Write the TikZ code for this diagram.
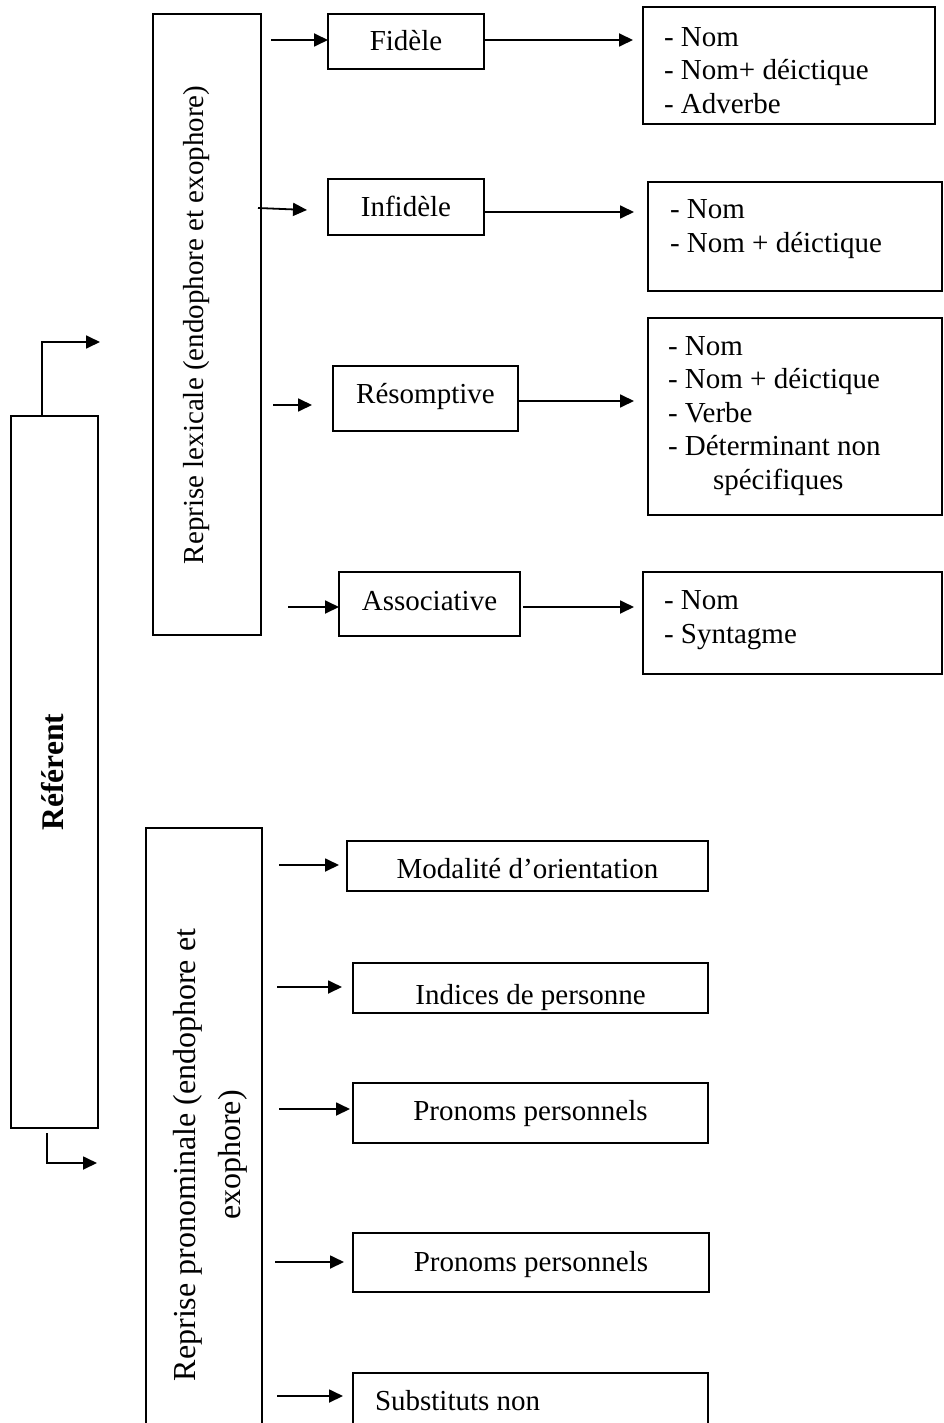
\documentclass[tikz,border=0pt]{standalone}
\usepackage{fontspec}
\setmainfont{Liberation Serif}
\usetikzlibrary{arrows.meta,calc}
\begin{document}
\begin{tikzpicture}[x=1pt,y=-1pt,
  bx/.style={draw, line width=1.8pt, inner sep=0pt, outer sep=0pt, anchor=north west},
  lbl/.style={inner sep=0pt, outer sep=0pt, font=\fontsize{29}{33.5}\selectfont},
  biglbl/.style={inner sep=0pt, outer sep=0pt, font=\fontsize{32}{37}\selectfont},
  boldlbl/.style={inner sep=0pt, outer sep=0pt, font=\fontsize{31.5}{36}\selectfont\bfseries},
  arr/.style={line width=1.8pt, -{Triangle[length=14pt,width=13pt]}}]
\useasboundingbox (0,0) rectangle (944,1423);
\clip (0,0) rectangle (944,1423);

% main boxes
\node[bx, minimum width=87, minimum height=712] (ref) at (11,416) {};
\node[boldlbl, rotate=90, anchor=base] (reft) at (63,772) {Référent};

\node[bx, minimum width=108, minimum height=621] (lex) at (153,14) {};
\node[lbl, rotate=90, anchor=base] (lext) at (203,325) {Reprise lexicale (endophore et exophore)};

\node[bx, minimum width=116, minimum height=700] (pro) at (146,828) {};
\node[biglbl, rotate=90, anchor=base] (prot1) at (195,1155) {Reprise pronominale (endophore et};
\node[biglbl, rotate=90, anchor=base] (prot2) at (240,1155) {exophore)};

% lexical categories
\node[bx, minimum width=156, minimum height=55] (fid) at (328,14) {};
\node[lbl, anchor=base] (fidt) at (406,51) {Fidèle};
\node[bx, minimum width=156, minimum height=56] (inf) at (328,179) {};
\node[lbl, anchor=base] (inft) at (406,217) {Infidèle};
\node[bx, minimum width=185, minimum height=65] (res) at (333,366) {};
\node[lbl, anchor=base] (rest) at (425.5,403) {Résomptive};
\node[bx, minimum width=181, minimum height=64] (asc) at (339,572) {};
\node[lbl, anchor=base] (asct) at (429.5,610) {Associative};

% lists
\node[bx, minimum width=292, minimum height=117] (L1) at (643,7) {};
\node[lbl, anchor=base west] (L1a) at (664,46.5) {- Nom};
\node[lbl, anchor=base west] (L1b) at (664,80) {- Nom+ déictique};
\node[lbl, anchor=base west] (L1c) at (664,113.5) {- Adverbe};

\node[bx, minimum width=294, minimum height=109] (L2) at (648,182) {};
\node[lbl, anchor=base west] (L2a) at (670,218.5) {- Nom};
\node[lbl, anchor=base west] (L2b) at (670,252) {- Nom + déictique};

\node[bx, minimum width=294, minimum height=197] (L3) at (648,318) {};
\node[lbl, anchor=base west] (L3a) at (668,355) {- Nom};
\node[lbl, anchor=base west] (L3b) at (668,388.5) {- Nom + déictique};
\node[lbl, anchor=base west] (L3c) at (668,422) {- Verbe};
\node[lbl, anchor=base west] (L3d) at (668,455.5) {- Déterminant non};
\node[lbl, anchor=base west] (L3e) at (713,489) {spécifiques};

\node[bx, minimum width=299, minimum height=102] (L4) at (643,572) {};
\node[lbl, anchor=base west] (L4a) at (664,609.5) {- Nom};
\node[lbl, anchor=base west] (L4b) at (664,643) {- Syntagme};

% pronominal categories
\node[bx, minimum width=361, minimum height=50] (mod) at (347,841) {};
\node[lbl, anchor=base] (modt) at (527.5,878) {Modalité d’orientation};
\node[bx, minimum width=355, minimum height=50] (ind) at (353,963) {};
\begin{scope}
\clip (ind.north west) rectangle (ind.south east);
\node[lbl, anchor=base] (indt) at (530.5,1004) {Indices de personne};
\end{scope}
\node[bx, minimum width=355, minimum height=60] (pp1) at (353,1083) {};
\node[lbl, anchor=base] (pp1t) at (530.5,1120) {Pronoms personnels};
\node[bx, minimum width=356, minimum height=59] (pp2) at (353,1233) {};
\node[lbl, anchor=base] (pp2t) at (531,1271) {Pronoms personnels};
\node[bx, minimum width=355, minimum height=100] (sub) at (353,1373) {};
\node[lbl, anchor=base west] (subt) at (375,1410) {Substituts non};

% connectors from Référent
\coordinate (rt) at (100,342);
\draw[arr] ([xshift=31pt]ref.north west) |- (rt);
\coordinate (rb0) at (47,1133);
\coordinate (rb) at (97,1163);
\draw[arr] (rb0) |- (rb);

% lexical connectors
\coordinate (f0) at (271,40);
\draw[arr] (f0) -- (f0 -| fid.west);
\draw[arr] ($(fid.east)+(0,-1.5)$) -- ($(fid.east -| L1.west)+(-10,-1.5)$);

\coordinate (i0) at (258,208);
\coordinate (i1) at (307,210);
\draw[arr] (i0) -- (i1);
\draw[arr] ($(inf.east)+(0,5)$) -- ($(inf.east -| L2.west)+(-14,5)$);

\coordinate (r0) at (273,405);
\draw[arr] (r0) -- ($(r0 -| res.west)+(-21,0)$);
\draw[arr] ($(res.east)+(0,2.5)$) -- ($(res.east -| L3.west)+(-14,2.5)$);

\coordinate (a0) at (288,607);
\draw[arr] (a0) -- (a0 -| asc.west);
\draw[arr] ($(asc.east)+(3,3)$) -- ($(asc.east -| L4.west)+(-9,3)$);

% pronominal connectors
\coordinate (m0) at (279,865);
\draw[arr] (m0) -- ($(m0 -| mod.west)+(-8,0)$);
\coordinate (n0) at (277,987);
\draw[arr] (n0) -- ($(n0 -| ind.west)+(-11,0)$);
\coordinate (p0) at (279,1109);
\draw[arr] (p0) -- ($(p0 -| pp1.west)+(-3,0)$);
\coordinate (q0) at (275,1262);
\draw[arr] (q0) -- ($(q0 -| pp2.west)+(-9,0)$);
\coordinate (s0) at (277,1396);
\draw[arr] (s0) -- ($(s0 -| sub.west)+(-10,0)$);
\end{tikzpicture}
\end{document}
